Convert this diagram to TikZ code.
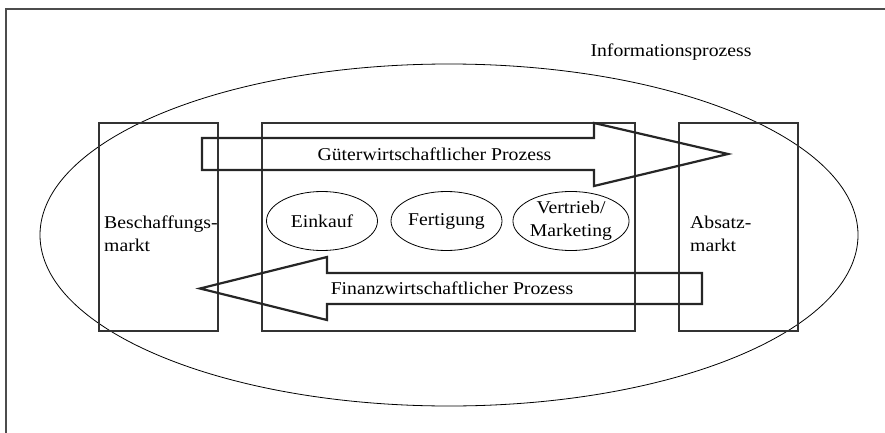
\documentclass[tikz,border=0pt]{standalone}
\usepackage{fontspec}
\setmainfont[FakeStretch=1.095]{Liberation Serif}
\usetikzlibrary{positioning,shapes.geometric}

\begin{document}
\begin{tikzpicture}[x=1pt,y=-1pt,node distance=124.5pt,on grid,
  font=\fontsize{18}{23}\selectfont,
  markt/.style={draw=black!80,line width=1.1pt,minimum width=119pt,minimum height=208pt,inner sep=0pt},
  betrieb/.style={draw=black!80,line width=1.1pt,minimum width=373pt,minimum height=208pt,inner sep=0pt},
  funktion/.style={draw,ellipse,line width=0.8pt,minimum width=111pt,minimum height=59pt,inner sep=0pt,align=center},
  prozess/.style={draw=black!85,line width=2.2pt,line join=miter},
  beschr/.style={inner sep=0pt,align=left,anchor=north west}]
  \useasboundingbox (0,0) rectangle (885,433);

  % Rahmen
  \draw[black!70,line width=1.3pt] (6,433) -- (6,9) -- (885,9);

  \node[anchor=base,inner sep=0pt] (infotext) at (671,57) {Informationsprozess};
  \node[draw,ellipse,line width=0.8pt,minimum width=818pt,minimum height=342pt] (info) at (449,235) {};

  \node[markt] (besch) at (158.5,227) {};
  \node[betrieb] (unt) [right=290pt of besch] {};
  \node[markt] (absatz) [right=290pt of unt] {};

  \node[beschr] (beschtext) at (104,215.7) {Beschaffungs-\\markt};
  \node[beschr] (absatztext) at (690,215.7) {Absatz-\\markt};

  \node[funktion] (einkauf) at (322,221) {Einkauf};
  \node[funktion] (fertigung) [right=of einkauf] {Fertigung};
  \node[funktion,minimum width=108pt] (vertrieb) [right=of fertigung] {Vertrieb/\\Marketing};

  % Prozesspfeile
  \draw[prozess] (202,138) -- (594,138) -- (594,123) -- (728,154)
    -- (594,186) -- (594,170) -- (202,170) -- cycle;
  \node[anchor=base,inner sep=0pt] (gueter) at (434.5,160) {Güterwirtschaftlicher Prozess};

  \draw[prozess] (702,273) -- (327,273) -- (327,257) -- (200,288.5)
    -- (327,320) -- (327,304) -- (702,304) -- cycle;
  \node[anchor=base,inner sep=0pt] (finanz) at (452,294.5) {Finanzwirtschaftlicher Prozess};
\end{tikzpicture}
\end{document}
